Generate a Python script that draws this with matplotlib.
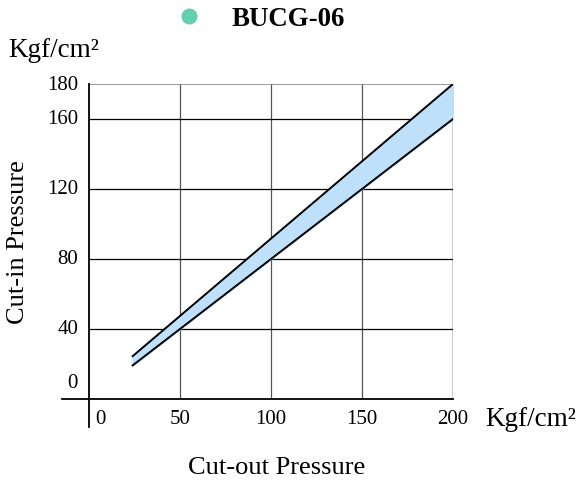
import matplotlib.pyplot as plt
from matplotlib.transforms import ScaledTranslation

plt.rcParams['font.family'] = ['Liberation Serif', 'DejaVu Serif']

# band of cut-in pressure against cut-out pressure
cut_out = [24, 200]
cut_in_high = [24.5, 180]
cut_in_low = [19.2, 160]

x_ticks = [0, 50, 100, 150, 200]
y_ticks = [0, 40, 80, 120, 160, 180]

fig = plt.figure(figsize=(5.78, 4.89), dpi=100)
ax = fig.add_axes([89 / 578, 1 - 400 / 489, 364 / 578, 315 / 489])
ax.set_xlim(0, 200)
ax.set_ylim(0, 180)

# grid
for x in x_ticks[1:-1]:
    ax.axvline(x, color='#555555', lw=0.9, zorder=1)
for y in y_ticks[1:-1]:
    ax.axhline(y, color='black', lw=0.9, zorder=1)

for s in ax.spines.values():
    s.set_visible(False)
ax.axhline(180, color='#888888', lw=1.2, zorder=1)
ax.axvline(200, color='black', lw=1.0, zorder=1)
# main axes, a bit longer than the plot box
ax.plot([-0.074, 1], [0, 0], color='black', lw=1.3, transform=ax.transAxes, clip_on=False)
ax.plot([0, 0], [-0.089, 1], color='black', lw=1.3, transform=ax.transAxes, clip_on=False)

ax.fill_between(cut_out, cut_in_low, cut_in_high, color='#bfe0fb', zorder=2)
ax.plot(cut_out, cut_in_high, color='black', lw=1.4, zorder=3)
ax.plot(cut_out, cut_in_low, color='black', lw=1.4, zorder=3)

ax.set_xticks([])
ax.set_yticks([])

def px(dx, dy):
    return ScaledTranslation(dx / 100, dy / 100, fig.dpi_scale_trans)

# tick labels
for x in x_ticks:
    if x == 0:
        ax.text(x, 0, str(x), fontsize=15, ha='left', va='center',
                transform=ax.get_xaxis_transform() + px(6, -20))
    else:
        ax.text(x, 0, str(x), fontsize=15, ha='center', va='center',
                transform=ax.get_xaxis_transform() + px(0, -20))
for y in y_ticks:
    dy = 16 if y == 0 else 0
    ax.text(0, y, str(y), fontsize=15, ha='right', va='center',
            transform=ax.get_yaxis_transform() + px(-11, dy))

fig.text(485 / 578, 1 - 420 / 489, 'Kgf/cm²', fontsize=19.5, ha='left', va='center')
fig.text(8 / 578, 1 - 51 / 489, 'Kgf/cm²', fontsize=19.5, ha='left', va='center')
fig.text(18 / 578, 1 - 242 / 489, 'Cut-in Pressure', fontsize=19, rotation=90,
         ha='center', va='center')
fig.text(277 / 578, 1 - 468 / 489, 'Cut-out Pressure', fontsize=19, ha='center', va='center')

fig.text(231 / 578, 1 - 20 / 489, 'BUCG-06', fontsize=19.4, fontweight='bold',
         ha='left', va='center')
fig.lines.append(plt.Line2D([189 / 578], [1 - 17 / 489], marker='o', markersize=10.5,
                            color='#62cfae', transform=fig.transFigure))

fig.savefig('out.png', dpi=100)
